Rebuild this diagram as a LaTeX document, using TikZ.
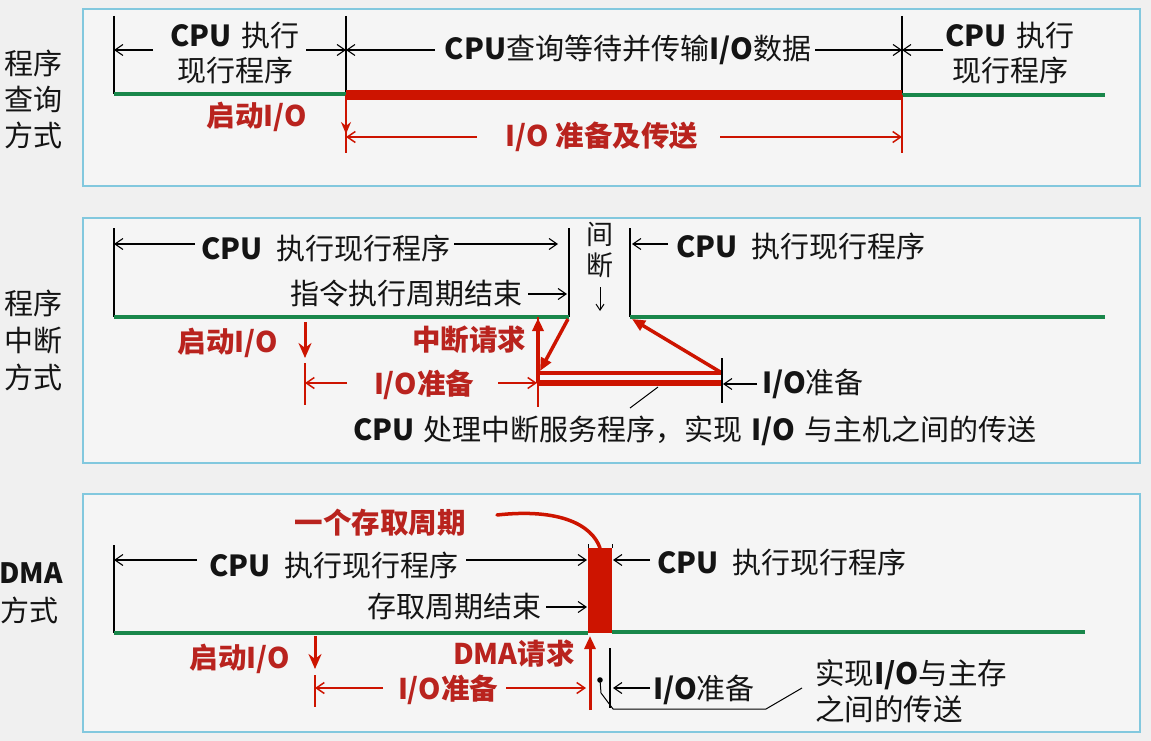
\documentclass[tikz,border=0pt]{standalone}
\usepackage{fontspec}
\setmainfont{Noto Sans CJK SC}
\usetikzlibrary{arrows.meta}
\definecolor{bg}{RGB}{240,240,240}
\definecolor{panelbg}{RGB}{245,245,245}
\definecolor{panelline}{RGB}{130,200,222}
\definecolor{grn}{RGB}{25,135,75}
\definecolor{redl}{RGB}{205,20,0}
\definecolor{redt}{RGB}{185,35,30}
\tikzset{
  panel/.style={draw=panelline, line width=1.3pt, fill=panelbg},
  tickline/.style={black, line width=1.2pt},
  dimarrow/.style={black, line width=1.1pt, -{Straight Barb[length=8pt,width=11pt]}},
  greenline/.style={grn, line width=4.5pt},
  redthick/.style={redl, line width=10pt},
  redthin/.style={redl, line width=1.5pt},
  reddim/.style={redl, line width=1.5pt, -{Straight Barb[length=8pt,width=11pt]}},
  reddown/.style={redl, line width=3pt, -{Stealth[length=15pt,width=13pt]}},
  redarrow/.style={redl, line width=3.5pt, -{Triangle[length=13pt,width=11pt]}},
  lbl/.style={inner sep=0pt, text=black!92, font=\fontsize{29}{35}\selectfont},
  rlbl/.style={inner sep=0pt, text=redt, font=\fontsize{28.5}{35}\selectfont\bfseries},
}
\newcommand{\bcpu}{{\bfseries CPU}}
\newcommand{\bio}{{\bfseries I/O}}
\begin{document}
\begin{tikzpicture}[x=1pt,y=-1pt]
\useasboundingbox (0,0) rectangle (1151,741);
\fill[bg] (0,0) rectangle (1151,741);
% panels
\draw[panel] (83,9) rectangle (1140,186);
\draw[panel] (83,218) rectangle (1140,463);
\draw[panel] (83,494) rectangle (1140,732);

% ================= panel 1 =================
\node[lbl, align=center, font=\fontsize{29}{36}\selectfont] (m1) at (34,99) {程序\\查询\\方式};
\coordinate (t1a) at (114,16); \coordinate (t1b) at (114,94);
\coordinate (t2a) at (346,16); \coordinate (t2b) at (346,95);
\coordinate (t3a) at (902,16); \coordinate (t3b) at (902,95);
\coordinate (g1e) at (1105,95);
\coordinate (t2c) at (346,153); \coordinate (t3c) at (902,153);
\draw[tickline] (t1a) -- (t1b);
\draw[tickline] (t2a) -- (t2b);
\draw[tickline] (t3a) -- (t3b);
\draw[greenline] (t1b) -- (t2b |- t1b);
\draw[redthick] (t2b) -- (t3b);
\draw[greenline] (t3b) -- (g1e);
\draw[redthin] (t2b) -- (t2c);
\draw[redthin] (t3b) -- (t3c);
\coordinate (d1s) at (346,100); \coordinate (d1e) at (346,134);
\draw[redl, line width=1.8pt, -{Stealth[length=12pt,width=10pt]}] (d1s) -- (d1e);

\node[lbl, align=center] (p1a) at (235,53) {\bcpu\hspace{10pt}执行\\现行程序};
\node[lbl] (p1b) at (628,50) {\bcpu 查询等待并传输\bio 数据};
\node[lbl, align=center] (p1c) at (1010,53) {\bcpu\hspace{10pt}执行\\现行程序};
\coordinate (a1) at (114,50); \coordinate (a2) at (153,50);
\coordinate (a3) at (306,50); \coordinate (a4) at (346,50);
\coordinate (a5) at (435,50); \coordinate (a6) at (815,50);
\coordinate (a7) at (902,50); \coordinate (a8) at (943,50);
\draw[dimarrow] (a2) -- (a1);
\draw[dimarrow] (a3) -- (a4);
\draw[dimarrow] (a5) -- (a4);
\draw[dimarrow] (a6) -- (a7);
\draw[dimarrow] (a8) -- (a7);

\node[rlbl] (r1a) at (257,117) {启动I/O};
\node[rlbl] (r1b) at (602,137) {I/O 准备及传送};
\coordinate (b1) at (346,137); \coordinate (b2) at (477,137);
\coordinate (b3) at (720,137); \coordinate (b4) at (902,137);
\draw[reddim] (b2) -- (b1);
\draw[reddim] (b3) -- (b4);

% ================= panel 2 =================
\node[lbl, align=center, font=\fontsize{29}{37}\selectfont] (m2) at (34,340) {程序\\中断\\方式};
\coordinate (u1a) at (114,228); \coordinate (u1b) at (114,317);
\coordinate (u2a) at (569,228); \coordinate (u2b) at (569,317);
\coordinate (u3a) at (630,228); \coordinate (u3b) at (630,317);
\coordinate (g2e) at (1105,317);
\draw[tickline] (u1a) -- (u1b);
\draw[tickline] (u2a) -- (u2b);
\draw[tickline] (u3a) -- (u3b);
\draw[greenline] (u1b) -- (u2b);
\draw[greenline] (u3b) -- (g2e);

\node[lbl] (p2a) at (326,248) {\bcpu\hspace{14pt}执行现行程序};
\coordinate (c1) at (114,244); \coordinate (c2) at (195,244);
\coordinate (c3) at (454,244); \coordinate (c4) at (558,244);
\draw[dimarrow] (c2) -- (c1);
\draw[dimarrow] (c3) -- (c4);
\node[lbl] (p2b) at (406,294) {指令执行周期结束};
\coordinate (c5) at (528,294); \coordinate (c6) at (567,294);
\draw[dimarrow] (c5) -- (c6);
\node[lbl, align=center, font=\fontsize{27}{31}\selectfont] (p2c) at (600,250) {间\\断};
\coordinate (c7) at (600,287); \coordinate (c8) at (600,311);
\draw[black, line width=1pt, -{Straight Barb[length=6pt,width=8pt]}] (c7) -- (c8);
\node[lbl] (p2d) at (801,246) {\bcpu\hspace{14pt}执行现行程序};
\coordinate (c9) at (668,244); \coordinate (c10) at (632,244);
\draw[dimarrow] (c9) -- (c10);

\node[rlbl] (r2a) at (228,343) {启动I/O};
\coordinate (e1) at (305,322); \coordinate (e2) at (305,358);
\draw[reddown] (e1) -- (e2);
\coordinate (e3) at (305,363); \coordinate (e4) at (305,405);
\draw[redthin] (e3) -- (e4);
\node[rlbl] (r2b) at (424,385) {I/O准备};
\coordinate (e5) at (305,383); \coordinate (e6) at (347,383);
\coordinate (e7) at (498,383); \coordinate (e8) at (537,383);
\draw[reddim] (e6) -- (e5);
\draw[reddim] (e7) -- (e8);
\node[rlbl] (r2c) at (469,340) {中断请求};
\coordinate (f1) at (538,317); \coordinate (f2) at (538,407);
\draw[redthin] (f1) -- (f2);
\coordinate (f3) at (538,383); \coordinate (f4) at (538,318);
\draw[redarrow] (f3) -- (f4);
\coordinate (f5) at (568,319); \coordinate (f6) at (540,371);
\draw[redarrow] (f5) -- (f6);
\coordinate (h1) at (538,373); \coordinate (h2) at (722,373);
\coordinate (h3) at (538,383); \coordinate (h4) at (722,383);
\draw[redl, line width=4.5pt] (h1) -- (h2);
\draw[redl, line width=6pt] (h3) -- (h4);
\coordinate (f7) at (632,319);
\draw[redarrow] (h2) -- (f7);
\coordinate (k1) at (722,358); \coordinate (k2) at (722,403);
\draw[tickline] (k1) -- (k2);
\node[lbl] (p2e) at (813,384) {\bio 准备};
\coordinate (k3) at (757,384); \coordinate (k4) at (723,384);
\draw[dimarrow] (k3) -- (k4);
\node[lbl] (p2f) at (695,431) {\bcpu\hspace{9pt}处理中断服务程序，实现\hspace{9pt}\bio\hspace{9pt}与主机之间的传送};
\coordinate (k5) at (630,408); \coordinate (k6) at (658,387);
\draw[black, line width=1pt] (k5) -- (k6);

% ================= panel 3 =================
\node[lbl, font=\fontsize{28}{35}\selectfont\bfseries] (m3a) at (31,573) {DMA};
\node[lbl, font=\fontsize{29}{35}\selectfont] (m3b) at (30,610) {方式};
\node[rlbl] (r3a) at (380,523) {一个存取周期};
\coordinate (q1) at (497,515); \coordinate (q2) at (600,548);
\draw[redl, line width=3.5pt, line cap=round] (q1) .. controls (560,508) and (592,525) .. (q2);
\coordinate (bx1) at (588,548); \coordinate (bx2) at (612,633);
\fill[redl] (bx1) rectangle (bx2);
\coordinate (bt1) at (588,544); \coordinate (bt2) at (612,544);
\draw[black, line width=0.8pt] (bt1) -- (bx1);
\draw[black, line width=0.8pt] (bt2) -- (bx2 |- bx1);
\coordinate (v1a) at (114,545); \coordinate (v1b) at (114,633);
\draw[tickline] (v1a) -- (v1b);
\coordinate (g3a) at (588,633); \coordinate (g3b) at (612,632); \coordinate (g3c) at (1085,632);
\draw[greenline] (v1b) -- (g3a);
\draw[greenline] (g3b) -- (g3c);

\node[lbl] (p3a) at (334,565) {\bcpu\hspace{14pt}执行现行程序};
\coordinate (w1) at (114,560); \coordinate (w2) at (197,560);
\coordinate (w3) at (466,560); \coordinate (w4) at (587,560);
\draw[dimarrow] (w2) -- (w1);
\draw[dimarrow] (w3) -- (w4);
\node[lbl] (p3b) at (454,607) {存取周期结束};
\coordinate (w5) at (546,607); \coordinate (w6) at (587,607);
\draw[dimarrow] (w5) -- (w6);
\node[lbl] (p3c) at (782,562) {\bcpu\hspace{14pt}执行现行程序};
\coordinate (w7) at (650,560); \coordinate (w8) at (613,560);
\draw[dimarrow] (w7) -- (w8);

\node[rlbl] (r3b) at (240,659) {启动I/O};
\coordinate (x1) at (315,636); \coordinate (x2) at (315,669);
\draw[reddown] (x1) -- (x2);
\coordinate (x3) at (315,675); \coordinate (x4) at (315,707);
\draw[redthin] (x3) -- (x4);
\node[rlbl] (r3c) at (448,690) {I/O准备};
\coordinate (x5) at (315,688); \coordinate (x6) at (383,688);
\coordinate (x7) at (506,688); \coordinate (x8) at (586,688);
\draw[reddim] (x6) -- (x5);
\draw[reddim] (x7) -- (x8);
\node[rlbl] (r3d) at (514,654) {DMA请求};
\coordinate (y1) at (590,710); \coordinate (y2) at (590,636);
\draw[redl, line width=3pt, -{Triangle[length=13pt,width=11pt]}] (y1) -- (y2);
\coordinate (z1) at (610,648); \coordinate (z2) at (610,708);
\draw[tickline] (z1) -- (z2);
\node[lbl] (p3d) at (704,690) {\bio 准备};
\coordinate (z3) at (650,688); \coordinate (z4) at (613,688);
\draw[dimarrow] (z3) -- (z4);
\coordinate (dot) at (600,680);
\fill[black] (dot) circle (2.8);
\coordinate (l1) at (601,693); \coordinate (l2) at (613,709);
\coordinate (l3) at (766,709); \coordinate (l4) at (802,688);
\draw[black, line width=1pt] (dot) -- (l1) -- (l2) -- (l3) -- (l4);
\node[lbl, align=left, anchor=west, font=\fontsize{29.5}{36}\selectfont] (p3e) at (815,691) {实现\bio 与主存\\之间的传送};
\end{tikzpicture}
\end{document}
